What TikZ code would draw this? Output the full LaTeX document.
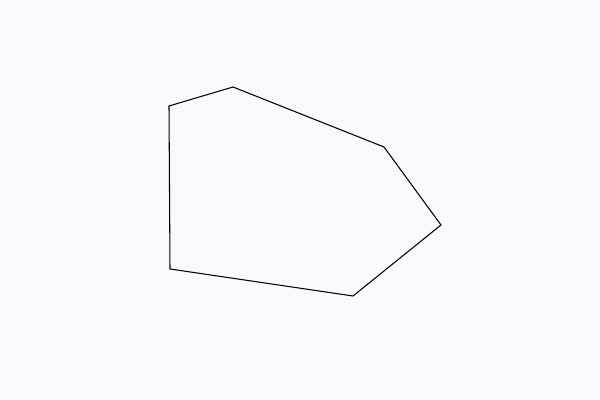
\documentclass[tikz,border=0pt]{standalone}
\usepackage{xcolor}
\usepackage{tikz}

\begin{document}
\begin{tikzpicture}
  \definecolor{paperbg}{HTML}{F8F9FE}

  % background and bounding box
  \fill[paperbg] (0, 0) rectangle (12, 8);
  \useasboundingbox (0, 0) rectangle (12, 8);

  % corners of the outline
  \coordinate (p1) at (3.38, 5.88);
  \coordinate (p2) at (4.66, 6.26);
  \coordinate (p3) at (7.68, 5.06);
  \coordinate (p4) at (8.82, 3.50);
  \coordinate (p5) at (7.06, 2.08);
  \coordinate (p6) at (3.40, 2.62);

  \draw[line width=0.6pt, line join=miter] (p1) -- (p2) -- (p3) -- (p4) -- (p5) -- (p6) -- cycle;
\end{tikzpicture}
\end{document}
